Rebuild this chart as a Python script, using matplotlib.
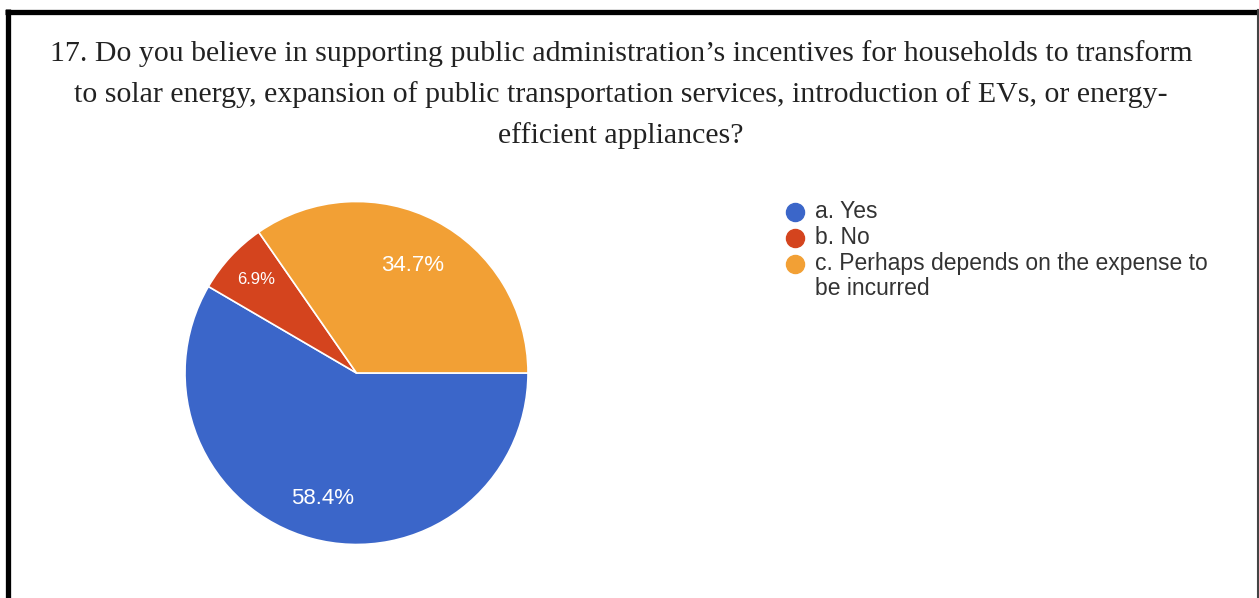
import numpy as np
import matplotlib.pyplot as plt
from matplotlib.lines import Line2D

labels = ["a. Yes", "b. No", "c. Perhaps depends on the expense to\nbe incurred"]
counts = [59, 7, 35]
colors = ["#3b66c9", "#d4441e", "#f2a035"]
title_lines = ["17. Do you believe in supporting public administration\u2019s incentives for households to transform",
               "to solar energy, expansion of public transportation services, introduction of EVs, or energy-",
               "efficient appliances?"]

W, H = 1259, 598
fig = plt.figure(figsize=(W / 100, H / 100), dpi=100)

def fx(x):
    return x / W

def fy(y):
    return 1 - y / H

# Moldura preta
fig.add_artist(Line2D([fx(5), fx(1259)], [fy(11.5), fy(11.5)], color="black", lw=3.8,
                      solid_capstyle="butt", transform=fig.transFigure))
fig.add_artist(Line2D([fx(7.5), fx(7.5)], [0, fy(9)], color="black", lw=3.8,
                      solid_capstyle="butt", transform=fig.transFigure))
fig.add_artist(Line2D([fx(1257.5), fx(1257.5)], [0, fy(10)], color="#444444", lw=1.5,
                      transform=fig.transFigure))

# Título (uma linha por texto)
for i, line in enumerate(title_lines):
    fig.text(fx(621), fy(61 + 41 * i), line, ha="center", va="baseline", fontsize=21.5,
             family="Liberation Serif", color="#222222")

# Pizza
cx, cy, r = 356.5, 373, 171.5
ax = fig.add_axes([fx(cx - r), fy(cy + r), 2 * r / W, 2 * r / H])
wedges, _ = ax.pie(counts, colors=colors, startangle=0, counterclock=False,
                   wedgeprops=dict(edgecolor="white", linewidth=1.2))
ax.set_xlim(-1, 1)
ax.set_ylim(-1, 1)
ax.set_aspect("equal")
ax.axis("off")

total = sum(counts)
dists = [0.76, 0.80, 0.71]
sizes = [16, 12, 16]
for w, c, d, fs in zip(wedges, counts, dists, sizes):
    ang = np.deg2rad((w.theta1 + w.theta2) / 2)
    ax.text(d * np.cos(ang), d * np.sin(ang), f"{100 * c / total:.1f}%",
            ha="center", va="center", color="white", fontsize=fs, family="Liberation Sans")

# Legenda
ly = [212, 238, 264]
for y0, lab, col in zip(ly, labels, colors):
    fig.add_artist(Line2D([fx(795)], [fy(y0)], marker="o", markersize=13,
                          color=col, transform=fig.transFigure))
    for j, part in enumerate(lab.split("\n")):
        fig.text(fx(815), fy(y0 + 6 + 25 * j), part, ha="left", va="baseline", fontsize=16.5,
                 family="Liberation Sans", color="#333333")

fig.savefig("out.png", dpi=100)
